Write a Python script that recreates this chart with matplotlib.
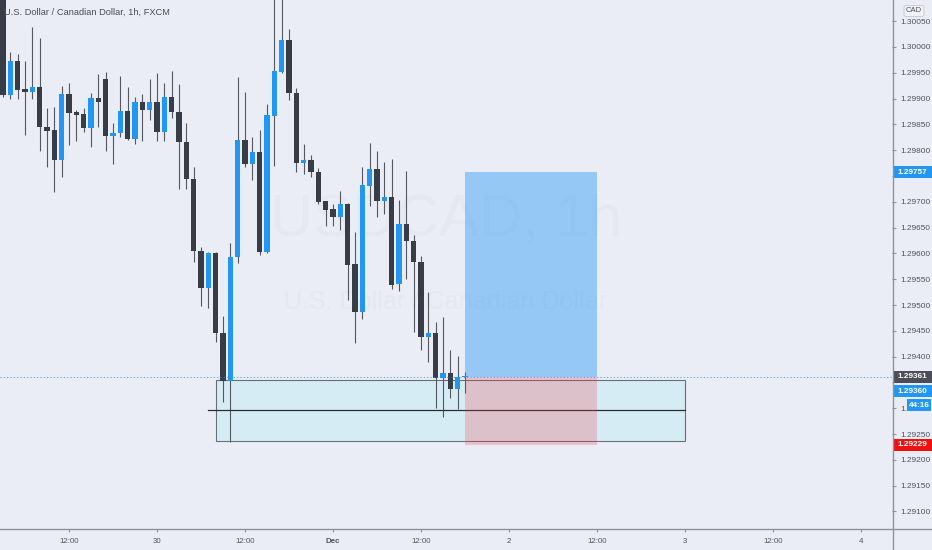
import matplotlib

matplotlib.use("Agg")  # headless
import matplotlib.pyplot as plt
import matplotlib.transforms as mtrans
import numpy as np
from matplotlib import font_manager
from matplotlib.lines import Line2D
from matplotlib.patches import Rectangle

# hourly candles, hour index counted from Nov 30 00:00
hours = list(range(-21, 43))
opens = [1.30110, 1.29907, 1.29973, 1.29919, 1.29913, 1.29922, 1.29845, 1.29839,
         1.29781, 1.29909, 1.29874, 1.29870, 1.29843, 1.29901, 1.29938, 1.29828,
         1.29833, 1.29876, 1.29822, 1.29893, 1.29878, 1.29893, 1.29835, 1.29903,
         1.29874, 1.29816, 1.29744, 1.29605, 1.29533, 1.29601, 1.29446, 1.29353,
         1.29593, 1.29820, 1.29773, 1.29797, 1.29603, 1.29866, 1.29952, 1.30014,
         1.29911, 1.29775, 1.29781, 1.29758, 1.29702, 1.29686, 1.29671, 1.29696,
         1.29579, 1.29486, 1.29731, 1.29764, 1.29702, 1.29709, 1.29541, 1.29657,
         1.29624, 1.29583, 1.29438, 1.29446, 1.29359, 1.29368, 1.29337, 1.29360]
highs = [1.30140, 1.29990, 1.29986, 1.29973, 1.30039, 1.30017, 1.29882, 1.29884,
         1.29924, 1.29930, 1.29878, 1.29882, 1.29911, 1.29948, 1.29952, 1.29853,
         1.29944, 1.29922, 1.29903, 1.29909, 1.29938, 1.29950, 1.29930, 1.29953,
         1.29928, 1.29853, 1.29767, 1.29612, 1.29603, 1.29603, 1.29479, 1.29620,
         1.29942, 1.29913, 1.29826, 1.29839, 1.29890, 1.30100, 1.30110, 1.30035,
         1.29921, 1.29812, 1.29791, 1.29765, 1.29702, 1.29696, 1.29721, 1.29698,
         1.29641, 1.29767, 1.29814, 1.29798, 1.29777, 1.29783, 1.29703, 1.29760,
         1.29636, 1.29595, 1.29525, 1.29467, 1.29477, 1.29413, 1.29401, 1.29370]
lows = [1.29903, 1.29899, 1.29899, 1.29829, 1.29899, 1.29798, 1.29767, 1.29719,
        1.29748, 1.29810, 1.29818, 1.29835, 1.29806, 1.29845, 1.29798, 1.29773,
        1.29826, 1.29820, 1.29812, 1.29818, 1.29859, 1.29818, 1.29818, 1.29862,
        1.29725, 1.29725, 1.29583, 1.29498, 1.29494, 1.29428, 1.29312, 1.29234,
        1.29581, 1.29767, 1.29742, 1.29597, 1.29601, 1.29769, 1.29950, 1.29897,
        1.29758, 1.29754, 1.29748, 1.29696, 1.29653, 1.29653, 1.29645, 1.29510,
        1.29426, 1.29473, 1.29692, 1.29671, 1.29676, 1.29531, 1.29527, 1.29550,
        1.29448, 1.29413, 1.29390, 1.29300, 1.29283, 1.29320, 1.29298, 1.29329]
closes = [1.29907, 1.29973, 1.29917, 1.29913, 1.29922, 1.29845, 1.29837, 1.29781,
          1.29909, 1.29872, 1.29868, 1.29843, 1.29901, 1.29893, 1.29828, 1.29833,
          1.29876, 1.29822, 1.29893, 1.29878, 1.29893, 1.29835, 1.29903, 1.29874,
          1.29816, 1.29744, 1.29605, 1.29533, 1.29601, 1.29446, 1.29353, 1.29593,
          1.29820, 1.29773, 1.29797, 1.29603, 1.29868, 1.29953, 1.30014, 1.29911,
          1.29775, 1.29781, 1.29758, 1.29700, 1.29684, 1.29671, 1.29696, 1.29578,
          1.29486, 1.29733, 1.29764, 1.29702, 1.29709, 1.29539, 1.29657, 1.29624,
          1.29583, 1.29438, 1.29446, 1.29359, 1.29368, 1.29337, 1.29360, 1.29361]

# drawings: demand zone, mid line, long position
zone = (8, 72, 1.29236, 1.29355)
zone_mid = (7, 72, 1.29297)
entry, target, stop = 1.29361, 1.29757, 1.29229
pos_start, pos_end = 42, 60
last_price = 1.29360
countdown = "44:16"

x_tick_pos = [-12, 0, 12, 24, 36, 48, 60, 72, 84, 96]
x_tick_lab = ["12:00", "30", "12:00", "Dec", "12:00", "2", "12:00", "3", "12:00", "4"]

BG = "#eaedf5"
UP = "#2196f3"
DOWN = "#383c47"
WICK = "#55585f"
TXT = "#50535e"


def pick_font():
    for name in ["Liberation Sans Narrow", "Liberation Sans"]:
        try:
            font_manager.findfont(name, fallback_to_default=False)
            return name
        except ValueError:
            pass
    return "DejaVu Sans"


FONT = pick_font()
K = 1.0 if "Narrow" in FONT else 0.86
plt.rcParams["font.family"] = [FONT, "DejaVu Sans"]

W, H = 932, 550
fig = plt.figure(figsize=(W / 100, H / 100), dpi=100, facecolor=BG)
ax = fig.add_axes([0, 21 / H, 892 / W, 529 / H], facecolor=BG)

# candles
o = np.array(opens)
c = np.array(closes)
up = c >= o
colors = np.where(up, UP, DOWN)
ax.vlines(hours, lows, highs, colors=WICK, linewidth=0.8, zorder=2)
body = np.maximum(np.abs(c - o), 0.000025)
ax.bar(hours, body, bottom=np.minimum(o, c), width=0.74, color=colors, zorder=3,
       linewidth=0)

# demand zone
ax.add_patch(Rectangle((zone[0], zone[2]), zone[1] - zone[0], zone[3] - zone[2],
                       facecolor="#d6ecf4", edgecolor="#6b6e78", linewidth=0.8,
                       zorder=1))
ax.plot([zone_mid[0], zone_mid[1]], [zone_mid[2], zone_mid[2]], color="#2a2d35",
        linewidth=0.9, zorder=4)

# long position tool
ax.add_patch(Rectangle((pos_start, entry), pos_end - pos_start, target - entry,
                       facecolor=(33 / 255, 150 / 255, 243 / 255, 0.42),
                       linewidth=0, zorder=5))
ax.add_patch(Rectangle((pos_start, stop), pos_end - pos_start, entry - stop,
                       facecolor=(242 / 255, 54 / 255, 69 / 255, 0.24),
                       linewidth=0, zorder=5))

ax.axhline(entry, color=UP, linestyle=(0, (1, 2)), linewidth=0.8, alpha=0.8,
           zorder=6)

# watermark
ax.text(0.5, 0.585, "USDCAD, 1h", transform=ax.transAxes, ha="center",
        va="center", fontsize=50 * K, color="#e5e8f0", zorder=0.5)
ax.text(0.5, 0.43, "U.S. Dollar / Canadian Dollar", transform=ax.transAxes,
        ha="center", va="center", fontsize=21 * K, color="#e5e8f0", zorder=0.5)

# scales
ax.set_xlim(-21.41, 100.23)
ax.set_ylim(1.29066, 1.30091)
for s in ax.spines.values():
    s.set_visible(False)

ax.yaxis.tick_right()
yt = np.arange(1.29100, 1.30051, 0.0005)
ax.set_yticks(yt)
ylabs = []
for v in yt:
    s = f"{v:.5f}"
    if s in ("1.29750", "1.29350"):
        s = ""  # hidden behind the price tags
    elif s == "1.29300":
        s = "1."  # only the start peeks out left of the countdown tag
    ylabs.append(s)
ax.set_yticklabels(ylabs)
ax.tick_params(axis="y", length=3, width=0.8, color="#8f929b", pad=3,
               labelsize=6.9 * K, labelcolor=TXT)
ax.set_xticks(x_tick_pos)
ax.set_xticklabels(x_tick_lab)
ax.tick_params(axis="x", length=2.5, width=0.8, color="#8f929b", pad=4,
               labelsize=6.6 * K, labelcolor=TXT)
for lab in ax.get_xticklabels():
    if lab.get_text() == "Dec":
        lab.set_fontweight("bold")

# axis lines
fig.add_artist(Line2D([0, 1], [21 / H, 21 / H], color="#8f929b", linewidth=1,
                      transform=fig.transFigure))
fig.add_artist(Line2D([892.5 / W, 892.5 / W], [0, 1], color="#8f929b",
                      linewidth=1, transform=fig.transFigure))

# title
fig.text(4 / W, 1 - 12 / H, "U.S. Dollar / Canadian Dollar, 1h, FXCM",
         fontsize=7.8 * K, color="#4a4d57", va="center", ha="left")

# currency box
fig.text(914 / W, 1 - 11 / H, "CAD", fontsize=6.4 * K, color=TXT, ha="center",
         va="center", bbox=dict(boxstyle="round,pad=0.25", facecolor="#f0f2f7",
                                edgecolor="#c5c8d0", linewidth=0.6))

# price tags on the scale
fig.canvas.draw()
to_fig = fig.transFigure.inverted()


def price_tag(price, text, color, dy_px=0, x0=893, x1=W):
    y_px = ax.transData.transform((0, price))[1] - dy_px
    y_fig = to_fig.transform((0, y_px))[1]
    fig.add_artist(Rectangle((x0 / W, y_fig - 6 / H), (x1 - x0) / W, 12 / H,
                             facecolor=color, linewidth=0,
                             transform=fig.transFigure))
    fig.text((x0 + x1) / 2 / W, y_fig, text, fontsize=6.9 * K, color="white",
             ha="center", va="center", fontweight="bold")


price_tag(target, f"{target:.5f}", UP)
price_tag(entry, f"{entry:.5f}", "#4b4e58")
price_tag(last_price, f"{last_price:.5f}", UP, dy_px=14)
price_tag(last_price, countdown, UP, dy_px=28, x0=907, x1=931)
price_tag(stop, f"{stop:.5f}", "#f01010")

fig.savefig("out.png", dpi=100, facecolor=BG)
